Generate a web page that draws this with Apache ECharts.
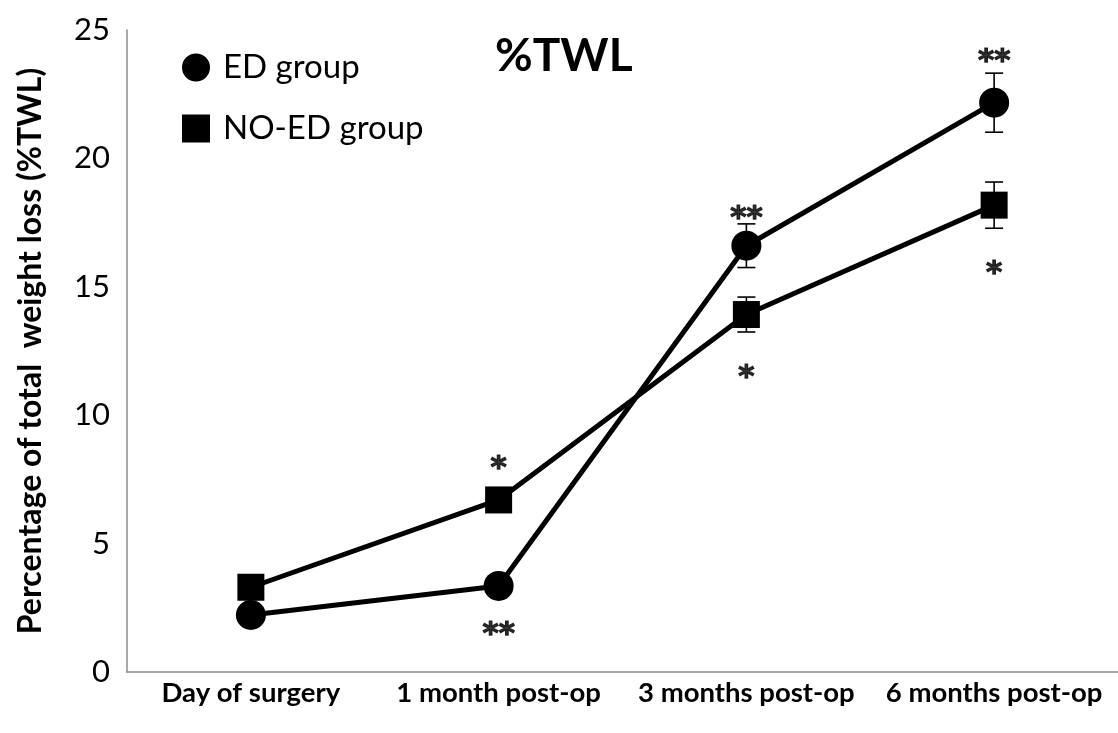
<!DOCTYPE html>
<html>
<head>
<meta charset="utf-8">
<script src="https://cdn.jsdelivr.net/npm/echarts@6/dist/echarts.min.js"></script>
<style>html,body{margin:0;padding:0;background:#fff}#c{width:1118px;height:733px}</style>
</head>
<body>
<div id="c"></div>
<script>
const categories = ['Day of surgery', '1 month post-op', '3 months post-op', '6 months post-op'];
const edValues = [2.22, 3.35, 16.6, 22.17];
const edErrors = [0.25, 0.3, 0.85, 1.15];
const noEdValues = [3.3, 6.7, 13.92, 18.18];
const noEdErrors = [0.3, 0.3, 0.68, 0.9];
const yTicks = { min: 0, max: 25, interval: 5 };
// significance marks: [category index, y position (data units), text]
const sigMarks = [
  [1, 7.9, '*'], [1, 1.45, '**'],
  [2, 17.65, '**'], [2, 11.45, '*'],
  [3, 23.75, '**'], [3, 15.5, '*']
];

const FONT = 'Lato';
const chart = echarts.init(document.getElementById('c'), null, { renderer: 'canvas' });

function errorSeries(values, errors) {
  return {
    type: 'custom',
    z: 1,
    silent: true,
    data: values.map((v, i) => [i, v - errors[i], v + errors[i]]),
    renderItem: function (params, api) {
      const x = api.value(0);
      const lo = api.coord([x, api.value(1)]);
      const hi = api.coord([x, api.value(2)]);
      const hw = 9;
      const style = { stroke: '#000', lineWidth: 1.6 };
      return {
        type: 'group',
        children: [
          { type: 'line', shape: { x1: lo[0], y1: lo[1], x2: hi[0], y2: hi[1] }, style: style },
          { type: 'line', shape: { x1: lo[0] - hw, y1: lo[1], x2: lo[0] + hw, y2: lo[1] }, style: style },
          { type: 'line', shape: { x1: hi[0] - hw, y1: hi[1], x2: hi[0] + hw, y2: hi[1] }, style: style }
        ]
      };
    }
  };
}

const option = {
  animation: false,
  backgroundColor: '#fff',
  title: {
    text: '%TWL',
    left: 490, top: 28,
    textStyle: { fontFamily: FONT, fontWeight: 'bold', fontSize: 46, color: '#000' }
  },
  legend: {
    orient: 'vertical',
    left: 177, top: 46,
    itemWidth: 28, itemHeight: 28,
    itemGap: 28,
    data: [
      { name: 'ED group', icon: 'circle' },
      { name: 'NO-ED group', icon: 'rect' }
    ],
    textStyle: { fontFamily: FONT, fontSize: 33, color: '#000', padding: [0, 0, 0, 8] }
  },
  grid: { left: 127, top: 30, width: 1000, bottom: 61, containLabel: false },
  xAxis: {
    type: 'category',
    data: categories,
    boundaryGap: true,
    axisLine: { lineStyle: { color: '#8c8c8c', width: 1.5 } },
    axisTick: { alignWithLabel: true, length: 10, lineStyle: { color: '#8c8c8c', width: 1.2 } },
    axisLabel: { margin: 7, fontFamily: FONT, fontWeight: 'bold', fontSize: 27.5, color: '#000', interval: 0 }
  },
  yAxis: {
    type: 'value',
    min: yTicks.min, max: yTicks.max, interval: yTicks.interval,
    name: 'Percentage of total  weight loss (%TWL)',
    nameLocation: 'middle',
    nameGap: 80,
    nameTextStyle: { fontFamily: FONT, fontWeight: 'bold', fontSize: 32, color: '#000' },
    axisLine: { show: true, lineStyle: { color: '#8c8c8c', width: 1.5 } },
    axisTick: { show: false },
    splitLine: { show: false },
    axisLabel: { margin: 17, fontFamily: FONT, fontSize: 31, color: '#000' }
  },
  series: [
    errorSeries(edValues, edErrors),
    errorSeries(noEdValues, noEdErrors),
    {
      name: 'NO-ED group', type: 'line', data: noEdValues, z: 3,
      symbol: 'rect', symbolSize: 27, color: '#000',
      lineStyle: { color: '#000', width: 5 },
      itemStyle: { color: '#000' }
    },
    {
      name: 'ED group', type: 'line', data: edValues, z: 4,
      symbol: 'circle', symbolSize: 30, color: '#000',
      lineStyle: { color: '#000', width: 5 },
      itemStyle: { color: '#000' }
    },
    {
      type: 'scatter', z: 5, silent: true,
      symbolSize: 0,
      data: sigMarks.map(m => ({ value: [m[0], m[1]], label: { formatter: m[2] } })),
      label: {
        show: true, position: 'inside',
        fontFamily: 'DejaVu Sans', fontWeight: 'bold', fontSize: 31, color: '#000',
        textBorderColor: '#000', textBorderWidth: 1.2
      }
    }
  ]
};
chart.setOption(option);
</script>
</body>
</html>
